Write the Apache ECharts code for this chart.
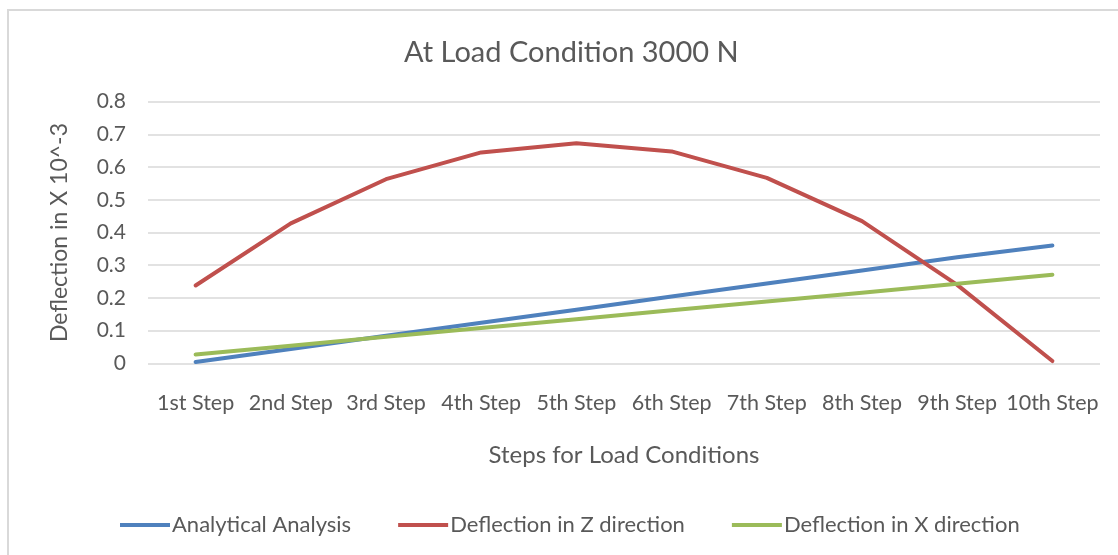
<!DOCTYPE html>
<html><head><meta charset="utf-8">
<script src="https://cdn.jsdelivr.net/npm/echarts@6/dist/echarts.min.js"></script>
<style>
html,body{margin:0;padding:0;background:#fff;overflow:hidden}
#frame{position:absolute;left:7px;top:9px;width:1200px;height:600px;border:2px solid #d9d9d9;box-sizing:border-box}
#c{position:absolute;left:0;top:0;width:1118px;height:555px}
</style></head>
<body>
<div id="frame"></div>
<div id="c"></div>
<script>
const categories = ['1st Step','2nd Step','3rd Step','4th Step','5th Step','6th Step','7th Step','8th Step','9th Step','10th Step'];
const analytical = [0.004, 0.044, 0.084, 0.124, 0.164, 0.204, 0.244, 0.284, 0.324, 0.36];
const deflZ = [0.238, 0.428, 0.563, 0.645, 0.673, 0.648, 0.567, 0.435, 0.24, 0.007];
const deflX = [0.027, 0.054, 0.081, 0.108, 0.135, 0.162, 0.189, 0.216, 0.243, 0.271];
const seriesNames = ['Analytical Analysis','Deflection in Z direction','Deflection in X direction'];
const colors = ['#4f81bd','#c0504d','#9bbb59'];
const FONT = 'Lato, "Open Sans", sans-serif';
const chart = echarts.init(document.getElementById('c'));
const mk = (name, data, color) => ({
  name, type:'line', data, symbol:'none', smooth:false,
  lineStyle:{color, width:4, cap:'round', join:'round'}, itemStyle:{color}
});
chart.setOption({
  animation:false,
  textStyle:{fontFamily:FONT},
  title:{text:'At Load Condition 3000 N', left:399, top:33,
    textStyle:{fontFamily:FONT, fontSize:29, fontWeight:'normal', color:'#595959'}},
  grid:{left:148, right:18, top:101.7, height:261.6},
  legend:{bottom:14, left:115, itemWidth:50, itemHeight:4, icon:'rect', itemGap:47,
    data:seriesNames,
    textStyle:{fontFamily:FONT, fontSize:22, color:'#595959', padding:[0,0,0,-3]}},
  xAxis:{type:'category', data:categories, boundaryGap:true,
    name:'Steps for Load Conditions', nameLocation:'middle', nameGap:80,
    nameTextStyle:{fontFamily:FONT, fontSize:24, color:'#595959'},
    axisLine:{show:false}, axisTick:{show:false},
    axisLabel:{fontFamily:FONT, fontSize:21.5, color:'#595959', margin:29, interval:0}},
  yAxis:{type:'value', min:0, max:0.8, interval:0.1,
    name:'Deflection in X 10^-3', nameLocation:'middle', nameGap:77, nameRotate:90,
    nameTextStyle:{fontFamily:FONT, fontSize:23, color:'#595959'},
    axisLine:{show:false}, axisTick:{show:false},
    axisLabel:{fontFamily:FONT, fontSize:21, color:'#595959', margin:22,
      formatter: v => (Math.round(v*10)/10).toString()},
    splitLine:{lineStyle:{color:'#d9d9d9', width:1.5}}},
  series:[mk(seriesNames[0], analytical, colors[0]), mk(seriesNames[1], deflZ, colors[1]), mk(seriesNames[2], deflX, colors[2])]
});
</script>
</body></html>
